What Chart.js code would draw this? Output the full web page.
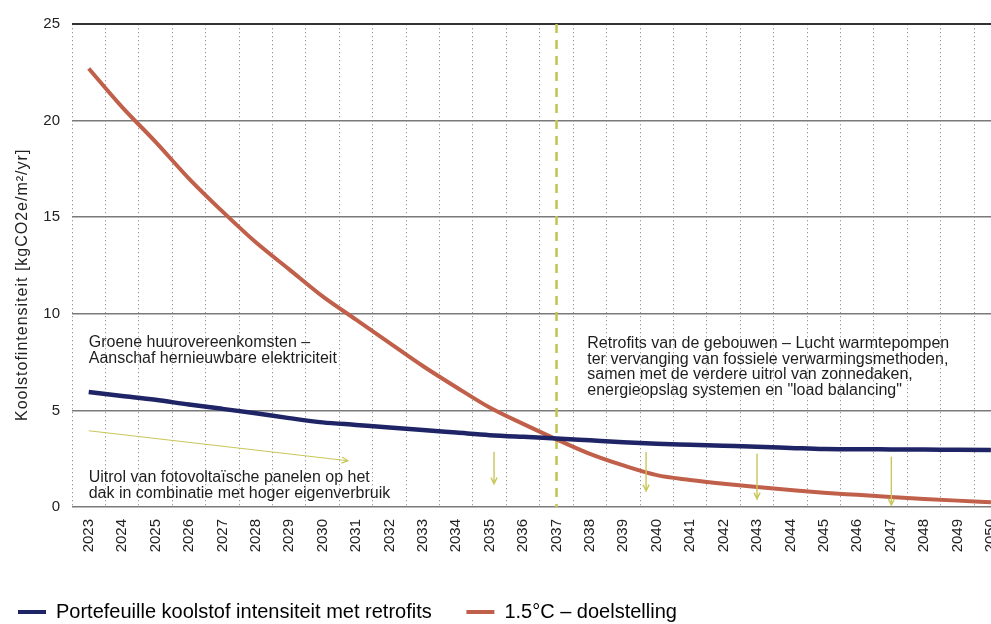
<!DOCTYPE html>
<html>
<head>
<meta charset="utf-8">
<script src="https://cdn.jsdelivr.net/npm/chart.js@4.4.0/dist/chart.umd.min.js"></script>
<style>
    html, body { margin: 0; padding: 0; background: #fff; overflow: hidden; width: 991px; height: 624px; }
    #wrap { position: absolute; left: 0; top: 0; width: 1021px; height: 632px; }
</style>
</head>
<body>
<div id="wrap"><canvas id="chart"></canvas></div>
<script>
// Koolstofintensiteit portefeuille vs 1.5°C pad

const years = ['2023', '2024', '2025', '2026', '2027', '2028', '2029', '2030', '2031', '2032',
    '2033', '2034', '2035', '2036', '2037', '2038', '2039', '2040', '2041', '2042',
    '2043', '2044', '2045', '2046', '2047', '2048', '2049', '2050'];

const retrofitValues = [5.95, 5.75, 5.55, 5.3, 5.08, 4.85, 4.6, 4.38, 4.25, 4.12,
    3.98, 3.85, 3.72, 3.63, 3.55, 3.45, 3.35, 3.27, 3.22, 3.17,
    3.12, 3.06, 3.0, 2.99, 2.98, 2.97, 2.96, 2.95];

const targetValues = [22.7, 20.7, 18.9, 17.0, 15.3, 13.7, 12.3, 10.9, 9.7, 8.5,
    7.3, 6.2, 5.15, 4.3, 3.5, 2.75, 2.15, 1.65, 1.4, 1.2,
    1.03, 0.88, 0.74, 0.63, 0.52, 0.42, 0.33, 0.25];

const seriesNames = ['Portefeuille koolstof intensiteit met retrofits', '1.5°C – doelstelling'];
const seriesColors = ['#1f2466', '#c0604a'];

const yTitle = 'Koolstofintensiteit [kgCO2e/m²/yr]';

const noteGreen = ['Groene huurovereenkomsten –', 'Aanschaf hernieuwbare elektriciteit'];
const noteSolar = ['Uitrol van fotovoltaïsche panelen op het', 'dak in combinatie met hoger eigenverbruik'];
const noteRetrofit = ['Retrofits van de gebouwen – Lucht warmtepompen',
    'ter vervanging van fossiele verwarmingsmethoden,',
    'samen met de verdere uitrol van zonnedaken,',
    'energieopslag systemen en "load balancing"'];

const milestoneYear = '2037';

Chart.defaults.font.family = '"Liberation Sans", Arial, sans-serif';
Chart.defaults.color = '#222';

const arrowColor = '#c9c65a';

function arrow(ctx, x1, y1, x2, y2, width) {
    const ang = Math.atan2(y2 - y1, x2 - x1);
    const head = 7;
    ctx.save();
    ctx.strokeStyle = arrowColor;
    ctx.lineWidth = width;
    ctx.beginPath();
    ctx.moveTo(x1, y1);
    ctx.lineTo(x2, y2);
    ctx.moveTo(x2 - head * Math.cos(ang - 0.45), y2 - head * Math.sin(ang - 0.45));
    ctx.lineTo(x2, y2);
    ctx.lineTo(x2 - head * Math.cos(ang + 0.45), y2 - head * Math.sin(ang + 0.45));
    ctx.stroke();
    ctx.restore();
}

function textBlock(ctx, lines, x, y, step) {
    ctx.save();
    ctx.font = '16px "Liberation Sans", Arial, sans-serif';
    ctx.fillStyle = '#1e1e1e';
    ctx.textAlign = 'left';
    ctx.textBaseline = 'middle';
    lines.forEach((t, i) => ctx.fillText(t, x, y + i * step));
    ctx.restore();
}

const notesPlugin = {
    id: 'notes',
    beforeDatasetsDraw(chart) {
        const { ctx, chartArea, scales } = chart;
        const x = scales.x.getPixelForValue(years.indexOf(milestoneYear));
        ctx.save();
        ctx.strokeStyle = '#c4c250';
        ctx.lineWidth = 2.5;
        ctx.setLineDash([9, 7]);
        ctx.beginPath();
        ctx.moveTo(x, chartArea.top);
        ctx.lineTo(x, chartArea.bottom);
        ctx.stroke();
        ctx.restore();

        // as-titel, iets gespatieerd zoals in het origineel
        ctx.save();
        ctx.translate(23, scales.y.getPixelForValue(11.5));
        ctx.rotate(-Math.PI / 2);
        ctx.font = '16px "Liberation Sans", Arial, sans-serif';
        ctx.letterSpacing = '1px';
        ctx.fillStyle = '#222';
        ctx.textAlign = 'center';
        ctx.textBaseline = 'middle';
        ctx.fillText(yTitle, 0, 0);
        ctx.restore();
    },
    afterDatasetsDraw(chart) {
        const { ctx, scales } = chart;
        const xs = scales.x, ys = scales.y;
        const px = v => xs.getPixelForValue(v);
        const py = v => ys.getPixelForValue(v);

        // schuine pijl (zonnepanelen)
        arrow(ctx, px(0), py(3.95), px(7.76), py(2.39), 1.1);
        // neerwaartse pijlen
        arrow(ctx, px(12.13), py(2.86), px(12.13), py(1.2), 1.4);
        arrow(ctx, px(16.68), py(2.86), px(16.68), py(0.83), 1.4);
        arrow(ctx, px(20.0), py(2.75), px(20.0), py(0.42), 1.4);
        arrow(ctx, px(24.02), py(2.6), px(24.02), py(0.1), 1.4);

        textBlock(ctx, noteGreen, px(0), py(8.52), 16);
        textBlock(ctx, noteSolar, px(0), py(1.5), 16);
        textBlock(ctx, noteRetrofit, px(14.92), py(8.47), 15.8);
    }
};

const ctx = document.getElementById('chart').getContext('2d');

new Chart(ctx, {
    type: 'line',
    data: {
        labels: years,
        datasets: [{
            label: seriesNames[0],
            data: retrofitValues,
            borderColor: seriesColors[0],
            backgroundColor: seriesColors[0],
            borderWidth: 4.5,
            pointRadius: 0,
            cubicInterpolationMode: 'monotone'
        }, {
            label: seriesNames[1],
            data: targetValues,
            borderColor: seriesColors[1],
            backgroundColor: seriesColors[1],
            borderWidth: 4,
            pointRadius: 0,
            cubicInterpolationMode: 'monotone'
        }]
    },
    options: {
        responsive: true,
        maintainAspectRatio: false,
        animation: false,
        layout: { padding: { top: 24, right: 5, left: 0, bottom: 0 } },
        plugins: {
            tooltip: { enabled: false },
            legend: {
                position: 'bottom',
                align: 'start',
                labels: {
                    boxWidth: 28,
                    boxHeight: 4,
                    padding: 18,
                    color: '#222',
                    font: { size: 20 },
                    generateLabels(chart) {
                        return chart.data.datasets.map((ds, i) => ({
                            // extra ruimte tussen de twee legenda-items
                            text: i === 0 ? ds.label + '\u00a0\u00a0\u00a0' : ds.label,
                            fillStyle: ds.borderColor,
                            strokeStyle: ds.borderColor,
                            lineWidth: 0,
                            hidden: false,
                            datasetIndex: i
                        }));
                    }
                }
            }
        },
        scales: {
            x: {
                offset: true,
                grid: {
                    offset: true,
                    drawTicks: false,
                    color: '#9a9a9a',
                    lineWidth: 1
                },
                border: { display: false, dash: [1.3, 2.7] },
                ticks: {
                    autoSkip: false,
                    maxRotation: 90,
                    minRotation: 90,
                    padding: 12,
                    color: '#222',
                    font: { size: 15 }
                },
                afterFit(scale) { scale.height = 77; }
            },
            y: {
                min: 0,
                max: 25,
                ticks: {
                    stepSize: 5,
                    padding: 12,
                    color: '#222',
                    font: { size: 15 }
                },
                grid: {
                    drawTicks: false,
                    color: c => (c.tick && c.tick.value === 25) ? '#333' : '#7a7a7a',
                    lineWidth: c => (c.tick && c.tick.value === 25) ? 2 : 1.5
                },
                border: { display: false },
                afterFit(scale) { scale.width = 72; }
            }
        }
    },
    plugins: [notesPlugin]
});
</script>
</body>
</html>
